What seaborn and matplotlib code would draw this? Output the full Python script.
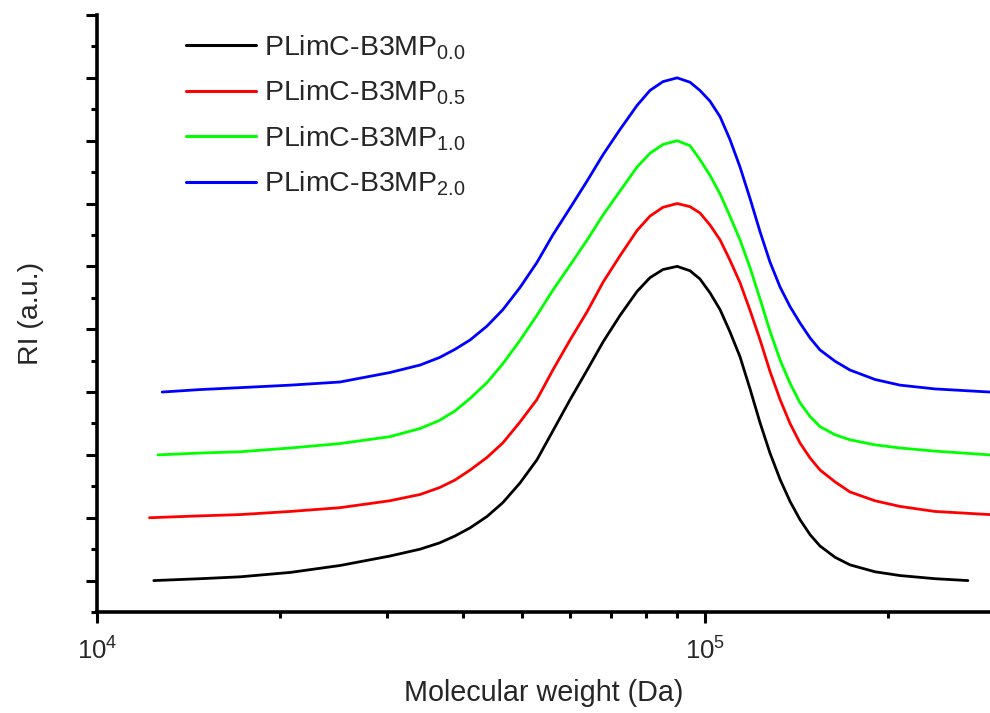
import matplotlib
matplotlib.use("Agg")
import matplotlib.pyplot as plt
import matplotlib.ticker as mticker
import numpy as np
import pandas as pd
import seaborn as sns

# ---- data ----
labels = [r"PLimC-B3MP$_{0.0}$", r"PLimC-B3MP$_{0.5}$",
          r"PLimC-B3MP$_{1.0}$", r"PLimC-B3MP$_{2.0}$"]
colors = ["#000000", "#ff0000", "#00ff00", "#0000ff"]

# common molecular-weight read-out positions (Da)
mw_grid = [14800, 17200, 20800, 25100, 30300, 34000, 36600, 38800, 41100,
           43800, 46500, 49600, 52900, 56200, 60000, 64000, 68000, 72500,
           77300, 81200, 85300, 90000, 94500, 98100, 101900, 105900, 109900,
           114200, 118600, 123200, 127900, 132900, 138000, 143300, 148900,
           154600, 163700, 173200, 190400, 209300, 238900]

mw_00 = [12400] + mw_grid + [270700]
ri_00 = [0.00, 0.03, 0.06, 0.13, 0.24, 0.39, 0.50, 0.60, 0.71, 0.84,
         1.02, 1.24, 1.55, 1.92, 2.38, 2.88, 3.35, 3.80, 4.22,
         4.60, 4.82, 4.95, 5.00, 4.93, 4.80, 4.58, 4.31, 3.96,
         3.56, 3.05, 2.51, 2.03, 1.61, 1.26, 0.97, 0.73,
         0.55, 0.37, 0.25, 0.14, 0.08, 0.03, 0.00]

mw_05 = [12200] + mw_grid + [294300]
ri_05 = [1.00, 1.03, 1.05, 1.10, 1.16, 1.27, 1.37, 1.48, 1.60, 1.76,
         1.96, 2.19, 2.52, 2.88, 3.35, 3.83, 4.28, 4.75, 5.17,
         5.57, 5.80, 5.94, 6.00, 5.95, 5.85, 5.66, 5.42, 5.10,
         4.74, 4.30, 3.83, 3.33, 2.88, 2.50, 2.19, 1.95,
         1.76, 1.57, 1.41, 1.27, 1.18, 1.10, 1.05]

mw_10 = [12600] + mw_grid + [294300]
ri_10 = [2.00, 2.03, 2.05, 2.11, 2.18, 2.29, 2.42, 2.55, 2.70, 2.90,
         3.15, 3.45, 3.82, 4.22, 4.62, 5.02, 5.42, 5.82, 6.20,
         6.58, 6.80, 6.94, 7.00, 6.92, 6.70, 6.45, 6.15, 5.80,
         5.42, 4.98, 4.48, 3.97, 3.51, 3.14, 2.83, 2.61,
         2.45, 2.32, 2.24, 2.16, 2.11, 2.06, 2.00]

mw_20 = [12800] + mw_grid + [294300]
ri_20 = [3.00, 3.04, 3.07, 3.11, 3.16, 3.31, 3.43, 3.55, 3.68, 3.83,
         4.05, 4.31, 4.66, 5.06, 5.50, 5.93, 6.36, 6.78, 7.18,
         7.56, 7.80, 7.94, 8.00, 7.93, 7.80, 7.63, 7.38, 7.02,
         6.58, 6.08, 5.55, 5.07, 4.67, 4.36, 4.10, 3.86,
         3.67, 3.49, 3.35, 3.20, 3.11, 3.05, 3.00]

series = [(mw_00, ri_00), (mw_05, ri_05), (mw_10, ri_10), (mw_20, ri_20)]
frames = []
for lab, (m, r) in zip(labels, series):
    frames.append(pd.DataFrame({"Mw": m, "RI": r, "sample": lab}))
df = pd.concat(frames, ignore_index=True)

# ---- style ----
sns.set_style("ticks")
plt.rcParams["font.family"] = ["Liberation Sans", "DejaVu Sans"]
plt.rcParams["mathtext.default"] = "regular"
plt.rcParams["mathtext.fontset"] = "custom"
plt.rcParams["mathtext.rm"] = "Liberation Sans"
plt.rcParams["mathtext.it"] = "Liberation Sans"

fig = plt.figure(figsize=(9.9, 7.13), dpi=100)
W, H = 990, 713
ax = fig.add_axes([97 / W, (H - 612) / H, (990 - 97) / W, (612 - 15) / H])

sns.lineplot(data=df, x="Mw", y="RI", hue="sample", palette=colors,
             hue_order=labels, estimator=None, sort=False, units="sample",
             linewidth=2.0, ax=ax, legend=True)

ax.set_xscale("log")
ax.set_xlim(1e4, 294300)
ax.set_ylim(-0.5, 9)
ax.yaxis.set_major_locator(mticker.MultipleLocator(1))
ax.yaxis.set_minor_locator(mticker.MultipleLocator(0.5))
ax.tick_params(axis="y", which="both", labelleft=False)
ax.xaxis.set_major_locator(mticker.LogLocator(base=10))
ax.xaxis.set_minor_locator(mticker.LogLocator(base=10, subs=np.arange(2, 10)))
ax.xaxis.set_minor_formatter(mticker.NullFormatter())

for s in ["top", "right"]:
    ax.spines[s].set_visible(False)
for s in ["left", "bottom"]:
    ax.spines[s].set_linewidth(2.6)
    ax.spines[s].set_color("black")

ax.tick_params(which="major", direction="out", length=8, width=2.2,
               color="black", labelsize=18.5, pad=10)
ax.tick_params(which="minor", direction="out", length=4.5, width=2.2,
               color="black")

ax.set_xlabel("Molecular weight (Da)", fontsize=20.7, labelpad=11)
ax.set_ylabel("RI (a.u.)", fontsize=20.5, labelpad=30)

leg = ax.legend(loc="upper left", bbox_to_anchor=(186 / W, 1 - 33 / H),
                bbox_transform=fig.transFigure, frameon=False, fontsize=20.5,
                handlelength=2.45, handletextpad=0.3, labelspacing=0.6,
                borderaxespad=0, borderpad=0)
for line in leg.get_lines():
    line.set_linewidth(2.2)

fig.savefig("out.png", dpi=100)
